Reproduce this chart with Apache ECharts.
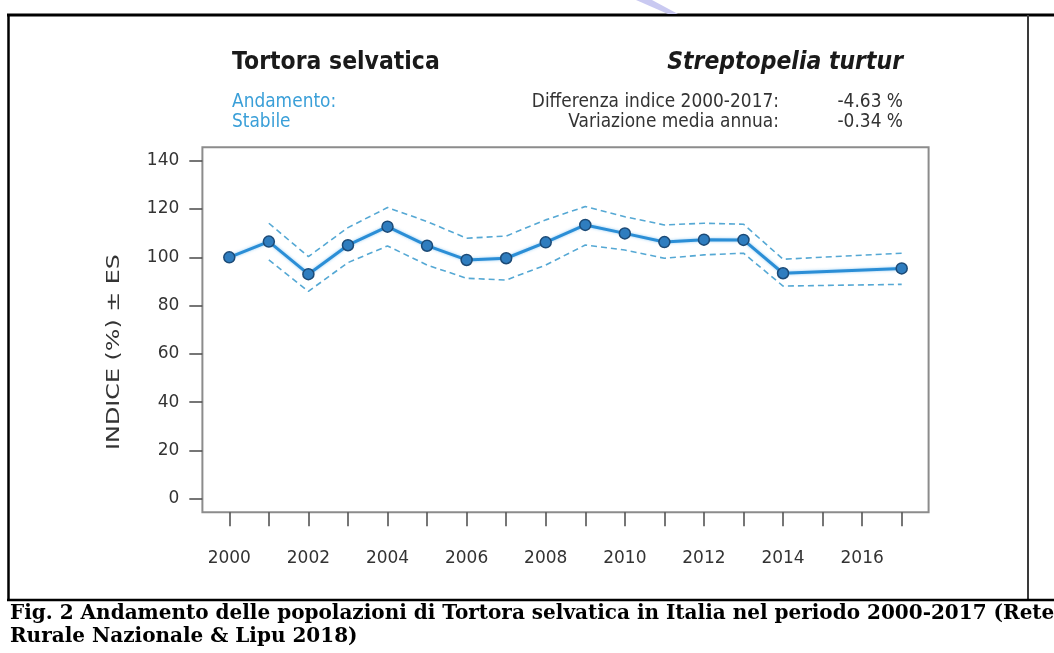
<!DOCTYPE html>
<html><head><meta charset="utf-8">
<script src="https://cdn.jsdelivr.net/npm/echarts@6/dist/echarts.min.js"></script>
<style>html,body{margin:0;padding:0;background:#fff}#c{width:1054px;height:653px}</style>
</head><body><div id="c"></div>
<script>
const years = [2000,2001,2002,2003,2004,2005,2006,2007,2008,2009,2010,2011,2012,2013,2014,2017];
const indexValues = [100,106.5,93.0,105.0,112.7,104.8,98.9,99.6,106.2,113.4,109.9,106.3,107.3,107.2,93.4,95.4];
const upperValues = [null,114.1,100.3,112.3,120.6,114.8,107.9,108.8,115.5,121.0,116.8,113.4,114.1,113.7,99.2,101.7];
const lowerValues = [null,98.9,85.9,97.8,104.7,96.8,91.3,90.6,96.8,105.1,103.0,99.6,101.0,101.7,88.1,88.8];
const yTicks = [0,20,40,60,80,100,120,140];
const xLabelYears = [2000,2002,2004,2006,2008,2010,2012,2014,2016];

const pairs = arr => years.map((y,i)=>[y, arr[i]]);
const FONT = 'DejaVu Sans';
const SY = 1.15;

const chart = echarts.init(document.getElementById('c'), null, {renderer:'canvas'});
chart.setOption({
  animation:false,
  backgroundColor:'#fff',
  grid:[
    {left:229.3, right:152.3, top:160.7, bottom:154.2},
    {left:202.4, right:125.4, top:147.2, bottom:140.7, show:true, borderColor:'#8c8c8c', borderWidth:2, backgroundColor:'transparent'}
  ],
  xAxis:[
    {gridIndex:0, type:'value', min:2000, max:2017, interval:1, offset:13.5,
     axisLine:{show:false, onZero:false},
     axisTick:{show:true, length:14, lineStyle:{color:'#4a4a4a', width:1.5}},
     axisLabel:{margin:38, fontSize:17, color:'#333', fontFamily:FONT,
       formatter:v=> xLabelYears.includes(v) ? String(v) : ''},
     splitLine:{show:false}},
    {gridIndex:1, type:'value', min:0, max:1, show:false}
  ],
  yAxis:[
    {gridIndex:0, type:'value', min:yTicks[0], max:yTicks[yTicks.length-1], interval:20, offset:27,
     axisLine:{show:false, onZero:false},
     axisTick:{show:true, length:13, lineStyle:{color:'#4a4a4a', width:1.5}},
     axisLabel:{margin:23, fontSize:17, color:'#333', fontFamily:FONT},
     splitLine:{show:false}},
    {gridIndex:1, type:'value', min:0, max:1, show:false}
  ],
  series:[
    {type:'line', xAxisIndex:0, yAxisIndex:0, data:pairs(upperValues), symbol:'none',
     lineStyle:{color:'#55a8d4', width:1.6, type:[6,4]}, connectNulls:false, z:2},
    {type:'line', xAxisIndex:0, yAxisIndex:0, data:pairs(lowerValues), symbol:'none',
     lineStyle:{color:'#55a8d4', width:1.6, type:[6,4]}, connectNulls:false, z:2},
    {type:'line', xAxisIndex:0, yAxisIndex:0, data:pairs(indexValues), symbol:'circle', symbolSize:11,
     lineStyle:{color:'#2b8ed6', width:3, shadowBlur:3, shadowColor:'rgba(80,170,235,0.6)'},
     itemStyle:{color:'#2f7dbf', borderColor:'#1c4a76', borderWidth:1.5}, z:3}
  ],
  graphic:[
    {type:'line', shape:{x1:7, y1:15, x2:1054, y2:15}, style:{stroke:'#000', lineWidth:3}},
    {type:'line', shape:{x1:8.5, y1:14, x2:8.5, y2:601}, style:{stroke:'#000', lineWidth:2.5}},
    {type:'line', shape:{x1:1028, y1:15, x2:1028, y2:600}, style:{stroke:'#3a3a3a', lineWidth:2}},
    {type:'line', shape:{x1:7, y1:600, x2:1054, y2:600}, style:{stroke:'#000', lineWidth:2.5}},
    {type:'polygon', shape:{points:[[636,0],[652,0],[678,14],[668,14]]}, style:{fill:'#c9c9f1'}},
    {type:'text', x:232, y:62, scaleY:SY, style:{text:'Tortora selvatica', font:'bold 22px "DejaVu Sans"', fill:'#1a1a1a', textAlign:'left', textVerticalAlign:'middle'}},
    {type:'text', x:903, y:62, scaleY:SY, style:{text:'Streptopelia turtur', font:'italic bold 22px "DejaVu Sans"', fill:'#1a1a1a', textAlign:'right', textVerticalAlign:'middle'}},
    {type:'text', x:232, y:102, scaleY:SY, style:{text:'Andamento:', font:'17px "DejaVu Sans"', fill:'#3a9fd8', textAlign:'left', textVerticalAlign:'middle'}},
    {type:'text', x:232, y:122, scaleY:SY, style:{text:'Stabile', font:'17px "DejaVu Sans"', fill:'#3a9fd8', textAlign:'left', textVerticalAlign:'middle'}},
    {type:'text', x:779, y:102, scaleY:SY, style:{text:'Differenza indice 2000-2017:', font:'17px "DejaVu Sans"', fill:'#333', textAlign:'right', textVerticalAlign:'middle'}},
    {type:'text', x:779, y:122, scaleY:SY, style:{text:'Variazione media annua:', font:'17px "DejaVu Sans"', fill:'#333', textAlign:'right', textVerticalAlign:'middle'}},
    {type:'text', x:903, y:102, scaleY:SY, style:{text:'-4.63 %', font:'17px "DejaVu Sans"', fill:'#333', textAlign:'right', textVerticalAlign:'middle'}},
    {type:'text', x:903, y:122, scaleY:SY, style:{text:'-0.34 %', font:'17px "DejaVu Sans"', fill:'#333', textAlign:'right', textVerticalAlign:'middle'}},
    {type:'text', x:115, y:352, rotation:Math.PI/2, scaleX:1.4, style:{text:'INDICE (%) ± ES', font:'17px "DejaVu Sans"', fill:'#333', textAlign:'center', textVerticalAlign:'middle'}},
    {type:'text', x:10, y:624, style:{text:'Fig. 2 Andamento delle popolazioni di Tortora selvatica in Italia nel periodo 2000-2017 (Rete', font:'bold 20px "DejaVu Serif"', fill:'#000', textAlign:'left', textVerticalAlign:'bottom'}},
    {type:'text', x:10, y:647, style:{text:'Rurale Nazionale & Lipu 2018)', font:'bold 20px "DejaVu Serif"', fill:'#000', textAlign:'left', textVerticalAlign:'bottom'}}
  ]
});
</script></body></html>
